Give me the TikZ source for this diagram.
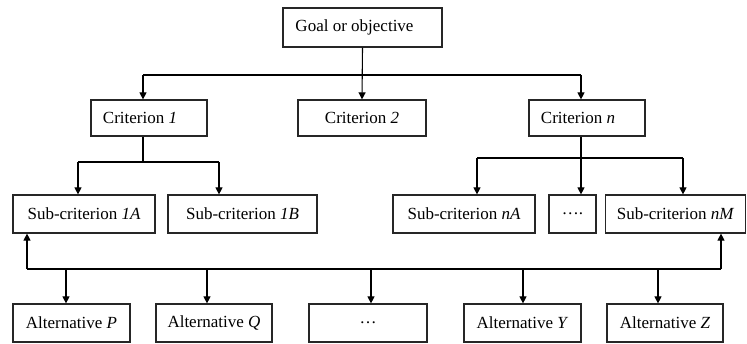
\documentclass[tikz,border=0pt]{standalone}
\usepackage{fontspec}
\setmainfont{Liberation Serif}
\usetikzlibrary{arrows.meta, calc}

\tikzset{
	box/.style = {draw = black!85, line width = 1.2pt, minimum height = 38pt, inner sep = 0pt, font = \fontsize{17}{20}\selectfont},
	arr/.style = {-{Triangle[width = 7pt, length = 7pt]}, line width = 1.1pt},
	link/.style = {line width = 1.1pt}
}

\begin{document}
\begin{tikzpicture}[x = 1pt, y = -1pt]
		\useasboundingbox (0,0) rectangle (747,344);

		% Goal and criteria
		\node[box, minimum width = 159pt, minimum height = 39pt] (goal) at (362.5,27.5) {Goal or objective\rule{16pt}{0pt}};
		\node[box, minimum width = 116pt, minimum height = 36pt] (crit1) at (149,118) {Criterion \textit{1}\rule{18pt}{0pt}};
		\node[box, minimum width = 128pt, minimum height = 36pt] (crit2) at (362,118) {Criterion \textit{2}};
		\node[box, minimum width = 116pt, minimum height = 36pt] (critn) at (587,118) {Criterion \textit{n}\rule{18pt}{0pt}};

		% Sub-criteria
		\node[box, minimum width = 142pt] (sub1A) at (84,214) {Sub-criterion \textit{1A}};
		\node[box, minimum width = 149pt] (sub1B) at (242.5,214) {Sub-criterion \textit{1B}};
		\node[box, minimum width = 142pt] (subnA) at (464,214) {Sub-criterion \textit{nA}};
		\node[box, minimum width = 47pt] (subdots) at (572.5,214) {\dots.};
		\node[box, minimum width = 140pt] (subnM) at (675.5,214) {Sub-criterion \textit{nM}};

		% Alternatives
		\node[box, minimum width = 117pt] (altP) at (71.5,323) {Alternative \textit{P}};
		\node[box, minimum width = 116pt] (altQ) at (214,323) {Alternative \textit{Q}};
		\node[box, minimum width = 118pt] (altdots) at (368,323) {\dots};
		\node[box, minimum width = 117pt] (altY) at (522.5,323) {Alternative \textit{Y}};
		\node[box, minimum width = 116pt] (altZ) at (665,323) {Alternative \textit{Z}};

		% Goal to criteria
		\coordinate (busA) at (143,75);
		\coordinate (busB) at (581,75);
		\draw[link] (busA) -- (busB);
		\draw[arr] (goal.south) -- (crit2.north);
		\draw[arr] (busA) -- (busA |- crit1.north);
		\draw[arr] (busB) -- (busB |- critn.north);

		% Criterion 1 to its sub-criteria
		\coordinate (c1A) at (78,162);
		\coordinate (c1B) at (219,162);
		\draw[link] (143,162 |- crit1.south) -- (143,162);
		\draw[link] (c1A) -- (c1B);
		\draw[arr] (c1A) -- (c1A |- sub1A.north);
		\draw[arr] (c1B) -- (c1B |- sub1B.north);

		% Criterion n to its sub-criteria
		\coordinate (cnA) at (477,158);
		\coordinate (cnM) at (683,158);
		\draw[link] (cnA) -- (cnM);
		\draw[arr] (581,158 |- critn.south) -- (581,158 |- subdots.north);
		\draw[arr] (cnA) -- (cnA |- subnA.north);
		\draw[arr] (cnM) -- (cnM |- subnM.north);

		% Alternatives bus
		\coordinate (altL) at (27,269);
		\coordinate (altR) at (721,269);
		\draw[link] (altL) -- (altR);
		\draw[arr] (altL) -- (altL |- sub1A.south);
		\draw[arr] (altR) -- (altR |- subnM.south);
		\foreach \x/\n in {66/altP, 207/altQ, 371/altdots, 523/altY, 658/altZ}
			\draw[arr] (\x,269) -- (\x,269 |- \n.north);

	\end{tikzpicture}
\end{document}
